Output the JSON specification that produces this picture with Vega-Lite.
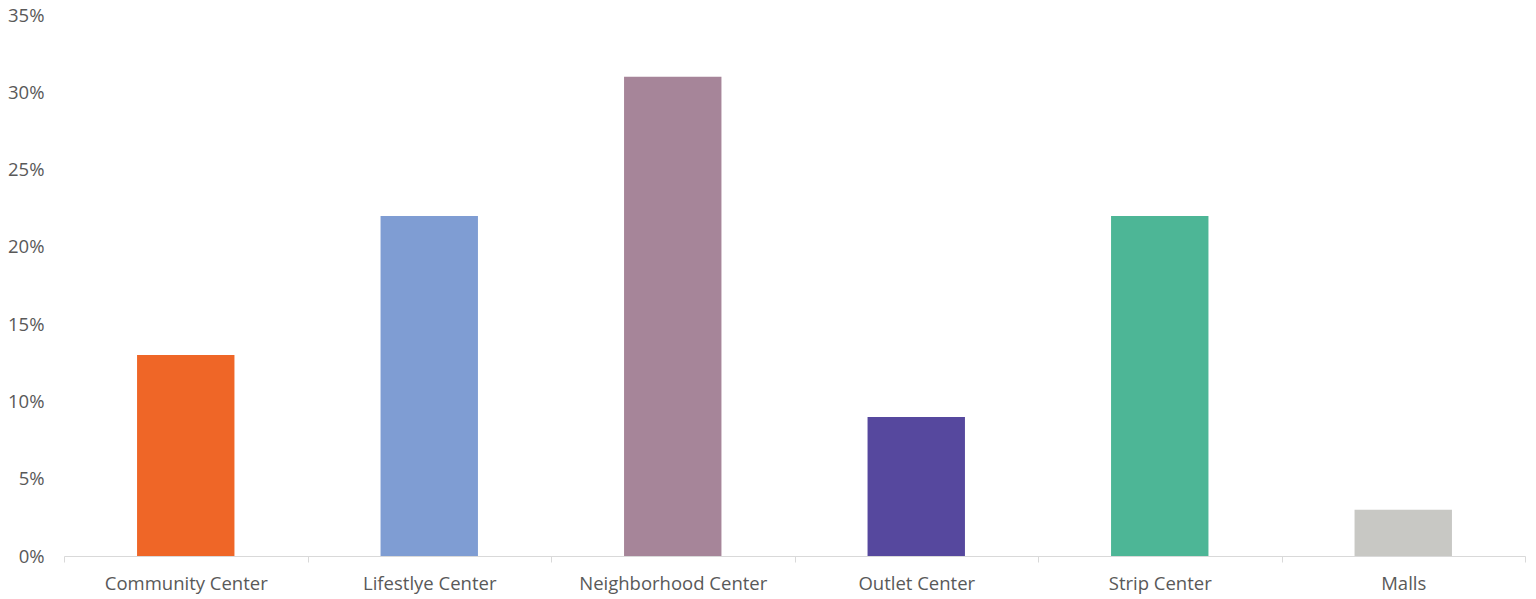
{
  "$schema": "https://vega.github.io/schema/vega-lite/v6.json",
  "width": 1461,
  "height": 541,
  "autosize": {"type": "none"},
  "padding": {"left": 64, "top": 15, "right": 11, "bottom": 43},
  "background": "white",
  "config": {"view": {"stroke": null}, "font": "Open Sans"},
  "data": {
    "values": [
      {"category": "Community Center", "share": 0.13, "color": "#EF6627"},
      {"category": "Lifestlye Center", "share": 0.22, "color": "#7F9DD3"},
      {"category": "Neighborhood Center", "share": 0.31, "color": "#A68599"},
      {"category": "Outlet Center", "share": 0.09, "color": "#56489E"},
      {"category": "Strip Center", "share": 0.22, "color": "#4DB696"},
      {"category": "Malls", "share": 0.03, "color": "#C8C8C4"}
    ]
  },
  "mark": {"type": "bar", "width": {"band": 0.4}},
  "encoding": {
    "x": {
      "field": "category",
      "type": "nominal",
      "sort": null,
      "scale": {"paddingInner": 0, "paddingOuter": 0},
      "axis": {
        "title": null,
        "labelAngle": 0,
        "labelFontSize": 18.5,
        "labelColor": "#595959",
        "labelPadding": 12,
        "labelLimit": 0,
        "domainColor": "#D9D9D9",
        "tickColor": "#D9D9D9",
        "tickSize": 6,
        "tickBand": "extent"
      }
    },
    "y": {
      "field": "share",
      "type": "quantitative",
      "scale": {"domain": [0, 0.35], "nice": false},
      "axis": {
        "title": null,
        "format": ".0%",
        "values": [0, 0.05, 0.1, 0.15, 0.2, 0.25, 0.3, 0.35],
        "grid": false,
        "domain": false,
        "ticks": false,
        "labelFontSize": 18.5,
        "labelColor": "#595959",
        "labelPadding": 20
      }
    },
    "color": {"field": "color", "type": "nominal", "scale": null, "legend": null}
  }
}
